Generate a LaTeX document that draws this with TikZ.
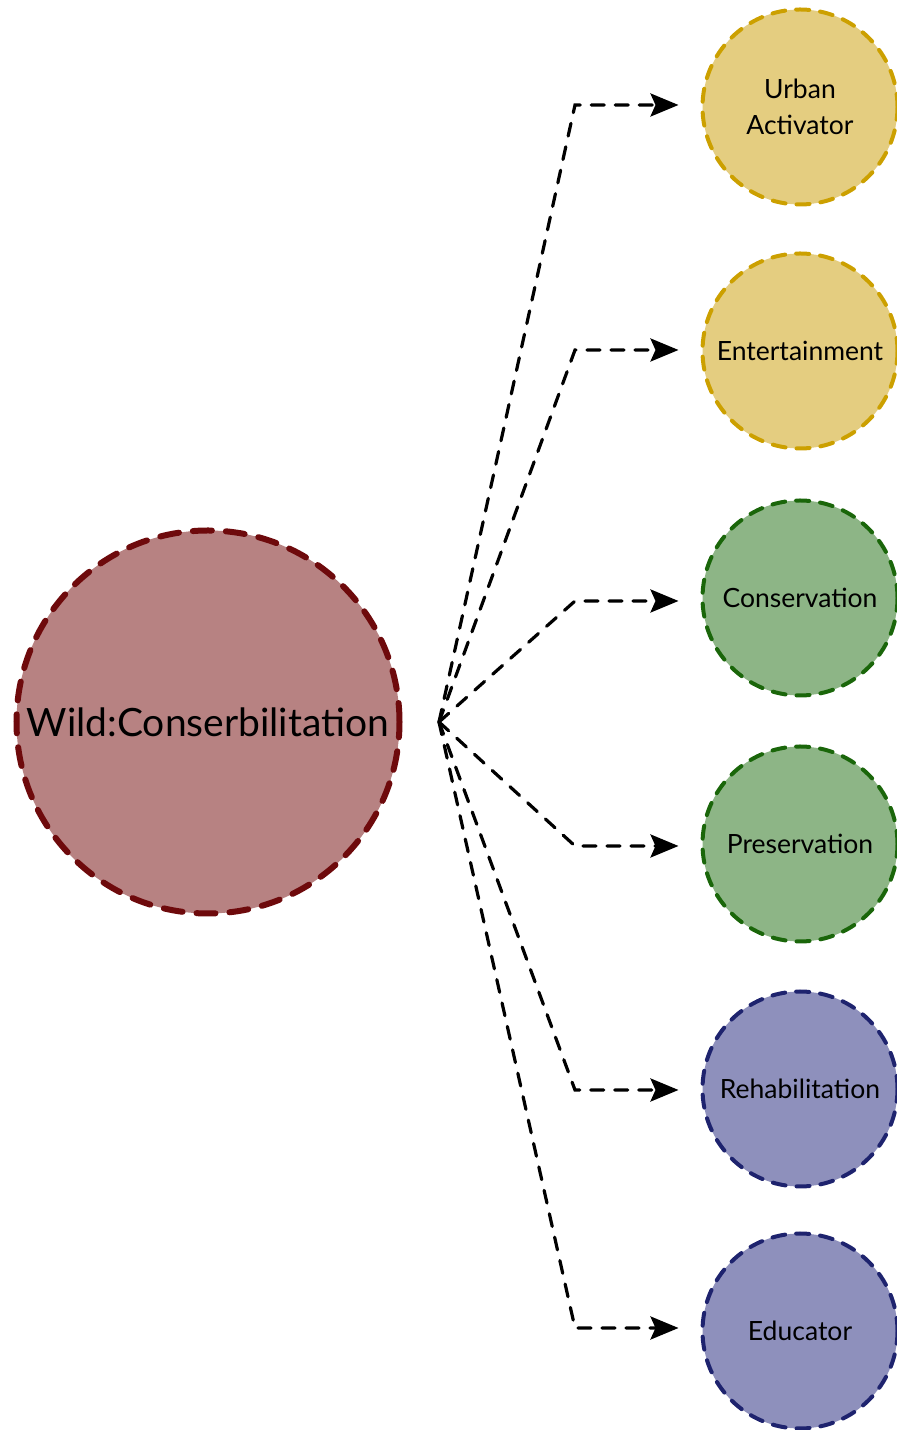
\documentclass[tikz,border=0pt]{standalone}
\usepackage{fontspec}
\setmainfont{Lato}
\usetikzlibrary{arrows.meta}
\definecolor{hubfill}{RGB}{183,130,130}
\definecolor{hubline}{RGB}{110,10,12}
\definecolor{yelfill}{RGB}{228,205,128}
\definecolor{yelline}{RGB}{204,160,0}
\definecolor{grnfill}{RGB}{141,181,134}
\definecolor{grnline}{RGB}{26,102,10}
\definecolor{blufill}{RGB}{142,144,188}
\definecolor{bluline}{RGB}{30,35,110}
\tikzset{
  hubnode/.style={circle, minimum size=383pt, inner sep=0pt, fill=hubfill, draw=hubline,
    line width=6pt, line cap=round, dash pattern=on 19pt off 14pt, font=\fontsize{39}{42}\selectfont},
  leaf/.style={circle, minimum size=195pt, inner sep=0pt, line width=4pt, line cap=round,
    dash pattern=on 13pt off 11pt, align=center, font=\fontsize{26.5}{36}\selectfont},
  yel/.style={leaf, fill=yelfill, draw=yelline},
  grn/.style={leaf, fill=grnfill, draw=grnline},
  blu/.style={leaf, fill=blufill, draw=bluline},
  link/.style={line width=3.2pt, dash pattern=on 13pt off 11pt, line cap=round,
    -{Stealth[length=28pt, width=23pt, inset=5pt]}, shorten >=22pt}
}
\begin{document}
\begin{tikzpicture}[x=1pt, y=1pt]
\useasboundingbox (0,0) rectangle (897,1430);
\node[hubnode] (wild) at (208,708) {Wild:Conserbilitation};
\node[yel] (urban) at (800,1323) {Urban\\Activator};
\node[yel] (ent)   at (800,1079) {Entertainment};
\node[grn] (cons)  at (800,832)  {Conservation};
\node[grn] (pres)  at (800,586)  {Preservation};
\node[blu] (reha)  at (800,341)  {Rehabilitation};
\node[blu] (edu)   at (800,99)   {Educator};
\coordinate (hub) at (439,708);
\foreach \n/\y in {urban/1325, ent/1080, cons/829, pres/584, reha/340, edu/102} {
  \draw[link] (hub) -- (575,\y) -- (\n.west |- 0,\y);
}
\end{tikzpicture}
\end{document}
